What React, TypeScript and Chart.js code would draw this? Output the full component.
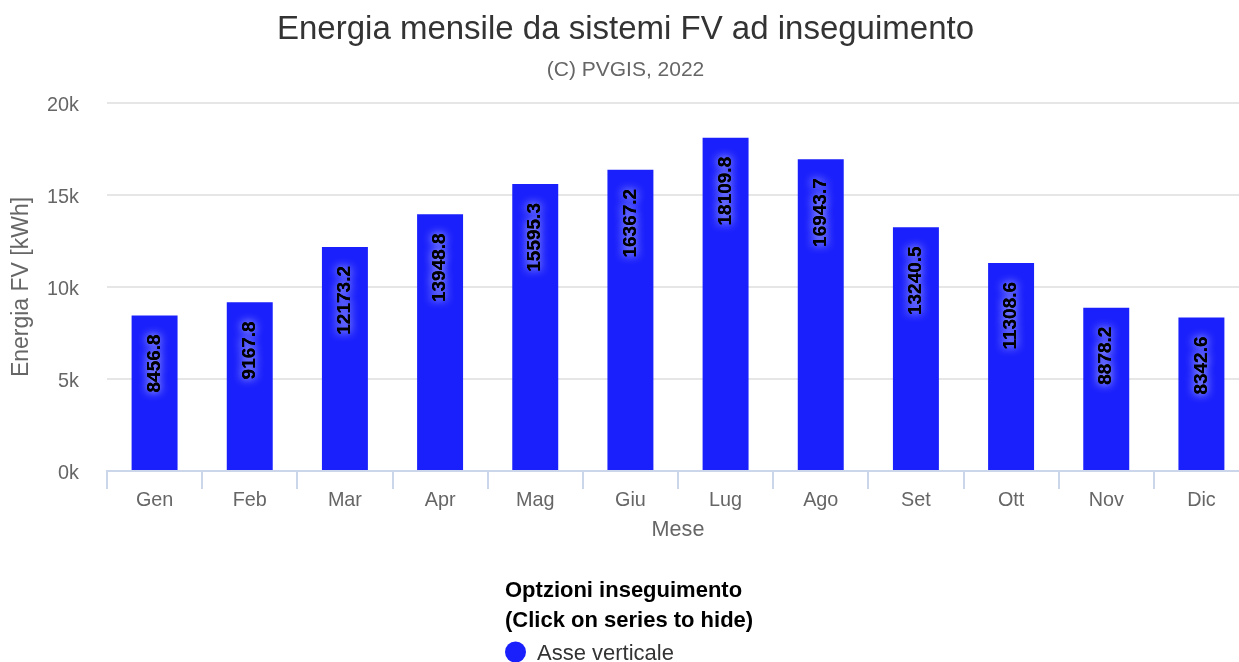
import React, { useEffect, useRef } from "react";
import { Chart, registerables } from "chart.js";

Chart.register(...registerables);

const categories = ["Gen", "Feb", "Mar", "Apr", "Mag", "Giu", "Lug", "Ago", "Set", "Ott", "Nov", "Dic"];
const energy = [8456.8, 9167.8, 12173.2, 13948.8, 15595.3, 16367.2, 18109.8, 16943.7, 13240.5, 11308.6, 8878.2, 8342.6];
const seriesName = "Asse verticale";
const titleText = "Energia mensile da sistemi FV ad inseguimento";
const subtitleText = "(C) PVGIS, 2022";
const legendTitleLines = ["Optzioni inseguimento", "(Click on series to hide)"];
const yAxisTitle = "Energia FV [kWh]";
const xAxisTitle = "Mese";

const FONT = '"Liberation Sans", Arial, Helvetica, sans-serif';
const BAR_COLOR = "#1a20fb";

const W = 1251;
const H = 662;

const decorPlugin = {
  id: "decor",
  afterDatasetsDraw(chart: any) {
    const ctx = chart.ctx as CanvasRenderingContext2D;
    const meta = chart.getDatasetMeta(0);
    ctx.save();
    ctx.font = `bold 19px ${FONT}`;
    ctx.textBaseline = "middle";
    ctx.textAlign = "right";
    meta.data.forEach((bar: any, i: number) => {
      const label = String(energy[i]);
      ctx.save();
      ctx.translate(bar.x, bar.y + 19);
      ctx.rotate(-Math.PI / 2);
      ctx.shadowColor = "rgba(255,255,255,0.95)";
      ctx.shadowBlur = 10;
      ctx.fillStyle = "#000";
      ctx.fillText(label, 0, 0);
      ctx.shadowBlur = 0;
      ctx.shadowColor = "transparent";
      ctx.fillText(label, 0, 0);
      ctx.restore();
    });
    ctx.restore();
  },
  afterDraw(chart: any) {
    const ctx = chart.ctx as CanvasRenderingContext2D;
    const cx = chart.width / 2;
    ctx.save();
    ctx.textBaseline = "alphabetic";
    ctx.textAlign = "center";
    ctx.fillStyle = "#333333";
    ctx.font = `33px ${FONT}`;
    ctx.fillText(titleText, cx, 39);
    ctx.fillStyle = "#666666";
    ctx.font = `21px ${FONT}`;
    ctx.fillText(subtitleText, cx, 76);

    // legend
    const left = 505;
    ctx.textAlign = "left";
    ctx.fillStyle = "#000";
    ctx.font = `bold 22px ${FONT}`;
    ctx.fillText(legendTitleLines[0], left, 597);
    ctx.fillText(legendTitleLines[1], left, 627);
    ctx.beginPath();
    ctx.arc(515.5, 652, 10.5, 0, Math.PI * 2);
    ctx.fillStyle = BAR_COLOR;
    ctx.fill();
    ctx.fillStyle = "#333333";
    ctx.font = `22px ${FONT}`;
    ctx.fillText(seriesName, 537, 660);
    ctx.restore();
  },
};

export default function App() {
  const ref = useRef<HTMLCanvasElement>(null);
  useEffect(() => {
    if (!ref.current) return;
    const chart = new Chart(ref.current, {
      type: "bar",
      data: {
        labels: categories,
        datasets: [
          {
            label: seriesName,
            data: energy,
            backgroundColor: BAR_COLOR,
            borderWidth: 0,
            barPercentage: 0.483,
            categoryPercentage: 1,
          },
        ],
      },
      options: {
        responsive: false,
        animation: false,
        layout: { padding: { left: 0, right: 2, top: 103, bottom: 118.5 } },
        plugins: {
          legend: { display: false },
          title: { display: false },
          tooltip: { enabled: false },
        },
        scales: {
          x: {
            offset: true,
            grid: {
              offset: true,
              drawOnChartArea: false,
              drawTicks: true,
              tickLength: 18,
              color: "#ccd6eb",
              lineWidth: 2,
            },
            border: { display: true, color: "#ccd6eb", width: 2 },
            ticks: {
              color: "#666666",
              font: { family: FONT, size: 19.8 },
              padding: 0,
              maxRotation: 0,
              autoSkip: false,
            },
            title: {
              display: true,
              text: xAxisTitle,
              color: "#666666",
              font: { family: FONT, size: 21.6 },
              padding: 0,
            },
            afterFit: (s: any) => {
              s.height = 72.5;
            },
          },
          y: {
            min: 0,
            max: 20000,
            grid: { color: "#e6e6e6", lineWidth: 2, drawTicks: false },
            border: { display: false },
            ticks: {
              stepSize: 5000,
              color: "#666666",
              font: { family: FONT, size: 19.8 },
              padding: 28,
              labelOffset: 3,
              callback: (v: any) => `${Number(v) / 1000}k`,
            },
            title: {
              display: true,
              text: yAxisTitle,
              color: "#666666",
              font: { family: FONT, size: 23 },
              padding: { top: 8, bottom: 0 },
            },
            afterFit: (s: any) => {
              s.width = 107;
            },
          },
        },
      },
      plugins: [decorPlugin],
    });
    return () => chart.destroy();
  }, []);

  return (
    <div style={{ position: "fixed", left: 0, top: 0, width: 1239, height: 662, overflow: "hidden", background: "#fff" }}>
      <canvas ref={ref} width={W} height={H} style={{ display: "block", width: W, height: H }} />
    </div>
  );
}
